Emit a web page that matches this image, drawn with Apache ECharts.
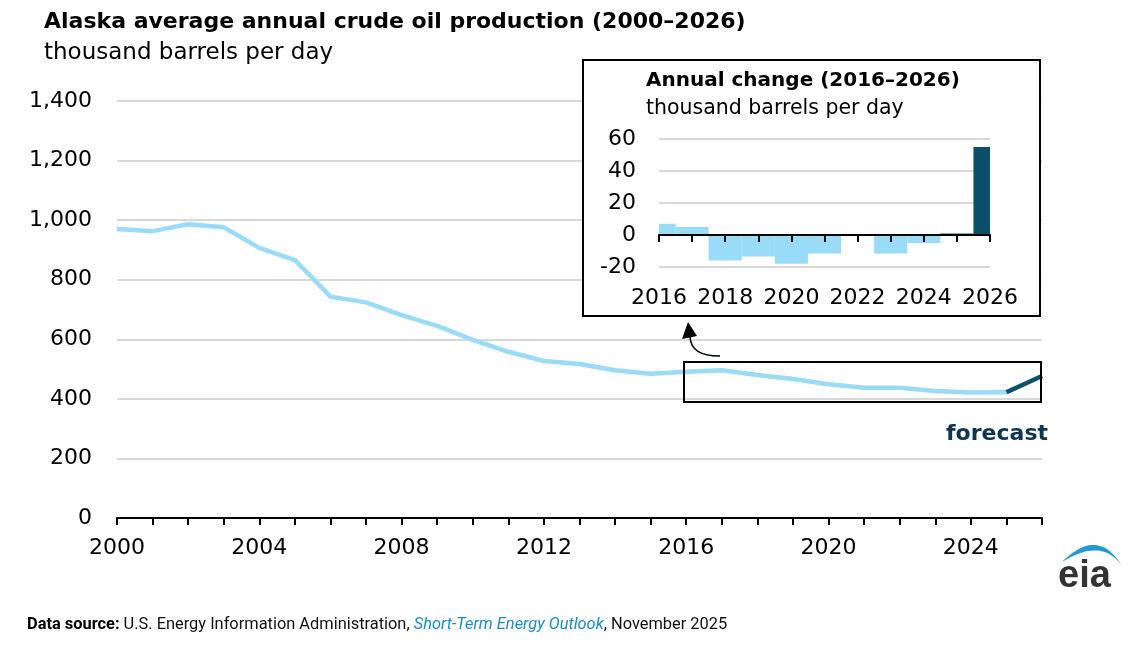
<!DOCTYPE html>
<html>
<head>
<meta charset="utf-8">
<script src="https://cdn.jsdelivr.net/npm/echarts@6/dist/echarts.min.js"></script>
<style>
html,body{margin:0;padding:0;background:#fff;}
#chart{width:1137px;height:649px;}
</style>
</head>
<body>
<div id="chart"></div>
<script>
// ---- data ----
const years = ['2000','2001','2002','2003','2004','2005','2006','2007','2008','2009','2010','2011','2012','2013','2014','2015','2016','2017','2018','2019','2020','2021','2022','2023','2024','2025','2026'];
const historyYears = years.slice(0, 26);
const historyValues = [970, 963, 986, 976, 907, 866, 743, 724, 681, 645, 598, 558, 527, 517, 496, 484, 491, 496, 480, 467, 449, 437, 437, 426, 421, 422];
const forecastYears = ['2025', '2026'];
const forecastValues = [422, 477];
const mainYTicks = [0, 200, 400, 600, 800, 1000, 1200, 1400];
const mainXLabels = ['2000','2004','2008','2012','2016','2020','2024'];

const changeYears = ['2016','2017','2018','2019','2020','2021','2022','2023','2024','2025','2026'];
const changeValues = [7, 5, -16, -13.5, -18, -11.5, 0, -11.5, -5, 1, 55];
const changeForecastFrom = '2025';
const insetYTicks = [-20, 0, 20, 40, 60];

const LIGHT = '#9adbf7';
const DARK = '#0b4f6b';
const FONT = 'DejaVu Sans';

// logo swoosh outline (crescent made of two quadratic curves)
function quad(p0, c, p1, n) {
  const pts = [];
  for (let k = 0; k <= n; k++) {
    const t = k / n, u = 1 - t;
    pts.push([u*u*p0[0] + 2*u*t*c[0] + t*t*p1[0], u*u*p0[1] + 2*u*t*c[1] + t*t*p1[1]]);
  }
  return pts;
}
const swoosh = quad([1062,562],[1098,526],[1122,566],20).concat(quad([1122,566],[1102,537],[1062,562],20).slice(1));

const chart = echarts.init(document.getElementById('chart'));

function renderStepBar(params, api) {
  const idx = api.value(0);
  const val = api.value(1);
  const base = api.coord([idx, 0]);
  const end = api.coord([idx, val]);
  const band = api.size([1, 0])[0];
  const cs = params.coordSys;
  const rect = echarts.graphic.clipRectByRect(
    { x: base[0] - band / 2, y: Math.min(base[1], end[1]), width: band, height: Math.abs(end[1] - base[1]) },
    { x: cs.x, y: cs.y, width: cs.width, height: cs.height }
  );
  if (!rect || rect.height <= 0) return null;
  return { type: 'rect', shape: rect, style: { fill: api.visual('color') } };
}

const option = {
  animation: false,
  backgroundColor: '#fff',
  textStyle: { fontFamily: FONT },
  grid: [
    { left: 117, right: 95, top: 101, bottom: 131, containLabel: false },
    { left: 659, top: 139, width: 331, height: 128, containLabel: false }
  ],
  xAxis: [
    {
      type: 'category', gridIndex: 0, data: years, boundaryGap: false, z: 0,
      axisLine: { lineStyle: { color: '#000', width: 2 } },
      axisTick: { show: true, interval: 0, length: 7, lineStyle: { color: '#000', width: 2 } },
      axisLabel: {
        interval: (i, v) => mainXLabels.indexOf(v) >= 0,
        fontSize: 22, color: '#000', margin: 19, fontFamily: FONT
      },
      splitLine: { show: false }
    },
    {
      type: 'category', gridIndex: 1, data: changeYears, boundaryGap: false, z: 6,
      axisLine: { onZero: true, lineStyle: { color: '#000', width: 2 } },
      axisTick: { show: true, interval: 0, length: 7, lineStyle: { color: '#000', width: 2 } },
      axisLabel: { show: false },
      splitLine: { show: false }
    },
    {
      type: 'category', gridIndex: 1, data: changeYears, boundaryGap: false, position: 'bottom', z: 3,
      axisLine: { show: false, onZero: false },
      axisTick: { show: false },
      axisLabel: { interval: 1, fontSize: 22, color: '#000', margin: 20, fontFamily: FONT },
      splitLine: { show: false }
    }
  ],
  yAxis: [
    {
      type: 'value', gridIndex: 0, min: mainYTicks[0], max: mainYTicks[mainYTicks.length - 1], interval: 200, z: 0,
      axisLine: { show: false }, axisTick: { show: false },
      axisLabel: {
        fontSize: 22, color: '#000', margin: 25, fontFamily: FONT,
        formatter: v => v.toLocaleString('en-US')
      },
      splitLine: { lineStyle: { color: '#d9d9d9', width: 2 } }
    },
    {
      type: 'value', gridIndex: 1, min: insetYTicks[0], max: insetYTicks[insetYTicks.length - 1], interval: 20, z: 3,
      axisLine: { show: false }, axisTick: { show: false },
      axisLabel: { fontSize: 22, color: '#000', margin: 23, fontFamily: FONT },
      splitLine: { lineStyle: { color: '#d9d9d9', width: 2 } }
    }
  ],
  series: [
    {
      type: 'line', xAxisIndex: 0, yAxisIndex: 0, z: 2,
      data: historyYears.map((y, i) => [y, historyValues[i]]),
      symbol: 'none', lineStyle: { color: LIGHT, width: 4.5 }
    },
    {
      type: 'line', xAxisIndex: 0, yAxisIndex: 0, z: 2,
      data: forecastYears.map((y, i) => [y, forecastValues[i]]),
      symbol: 'none', lineStyle: { color: DARK, width: 4.5 }
    },
    {
      type: 'custom', xAxisIndex: 1, yAxisIndex: 1, z: 4,
      renderItem: renderStepBar,
      encode: { x: 0, y: 1 },
      data: changeYears.map((y, i) => ({
        value: [y, changeValues[i]],
        itemStyle: { color: (+y >= +changeForecastFrom) ? DARK : LIGHT }
      }))
    }
  ],
  graphic: [
    { type: 'rect', z: 1, shape: { x: 583, y: 60, width: 457, height: 256 },
      style: { fill: '#fff', stroke: '#000', lineWidth: 2 } },
    { type: 'rect', z: 5, shape: { x: 684, y: 362, width: 357, height: 40 },
      style: { fill: 'none', stroke: '#000', lineWidth: 2 } },
    { type: 'bezierCurve', z: 5, shape: { x1: 720, y1: 356, x2: 690, y2: 337, cpx1: 700, cpy1: 356, cpx2: 691, cpy2: 350 },
      style: { fill: 'none', stroke: '#000', lineWidth: 1.5 } },
    { type: 'polygon', z: 5, shape: { points: [[688, 322], [682, 339], [697, 336]] },
      style: { fill: '#000' } },
    { type: 'text', z: 5, left: 44, top: 11,
      style: { text: 'Alaska average annual crude oil production (2000\u20132026)', font: 'bold 22px "DejaVu Sans"', fill: '#000' } },
    { type: 'text', z: 5, left: 44, top: 42,
      style: { text: 'thousand barrels per day', font: '23px "DejaVu Sans"', fill: '#000' } },
    { type: 'text', z: 5, left: 646, top: 71,
      style: { text: 'Annual change (2016\u20132026)', font: 'bold 20px "DejaVu Sans"', fill: '#000' } },
    { type: 'text', z: 5, left: 646, top: 98,
      style: { text: 'thousand barrels per day', font: '20.5px "DejaVu Sans"', fill: '#000' } },
    { type: 'text', z: 5, right: 89, top: 423,
      style: { text: 'forecast', font: 'bold 22px "DejaVu Sans"', fill: '#0d3550' } },
    { type: 'text', z: 5, left: 27, top: 617,
      style: {
        text: '{b|Data source:} U.S. Energy Information Administration, {i|Short-Term Energy Outlook}, November 2025',
        font: '16.4px Roboto', fill: '#111',
        rich: {
          b: { font: 'bold 16.4px Roboto', fill: '#000' },
          i: { font: 'italic 16.4px Roboto', fill: '#1a8cc4' }
        }
      } },
    { type: 'polygon', z: 5, shape: { points: swoosh },
      style: { fill: '#1e9ad6' } },
    { type: 'text', z: 5, left: 1058, top: 558,
      style: { text: 'eia', font: 'bold 38px "Liberation Sans"', fill: '#333' } }
  ]
};

chart.setOption(option);
</script>
</body>
</html>
